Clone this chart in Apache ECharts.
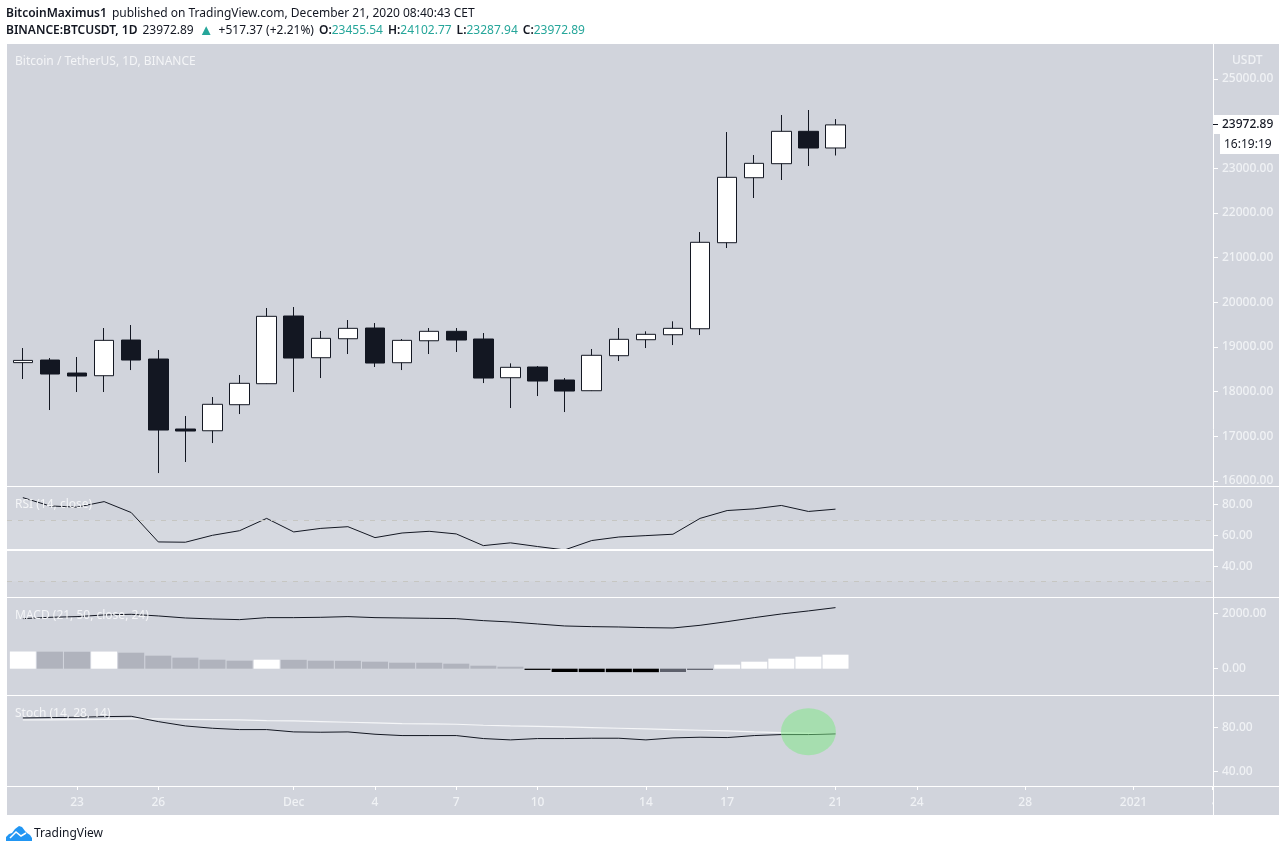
<!DOCTYPE html>
<html>
<head>
<meta charset="utf-8">
<style>html,body{margin:0;padding:0;background:#fff}#c{width:1286px;height:852px}</style>
<script src="https://cdn.jsdelivr.net/npm/echarts@6/dist/echarts.min.js"></script>
</head>
<body>
<div id="c"></div>
<script>
const dates = ['Nov 21','Nov 22','Nov 23','Nov 24','Nov 25','Nov 26','Nov 27','Nov 28','Nov 29','Nov 30','Dec 1','Dec 2','Dec 3','Dec 4','Dec 5','Dec 6','Dec 7','Dec 8','Dec 9','Dec 10','Dec 11','Dec 12','Dec 13','Dec 14','Dec 15','Dec 16','Dec 17','Dec 18','Dec 19','Dec 20','Dec 21'];
const open  = [18650,18708,18417,18357,19156,18731,17164,17125,17708,18178,19694,18760,19185,19425,18648,19140,19351,19179,18312,18552,18261,18021,18805,19163,19275,19409,21335,22790,23104,23829,23455.54];
const close = [18700,18395,18350,19149,18708,17141,17119,17717,18187,19687,18753,19194,19418,18641,19149,19351,19156,18305,18545,18238,18014,18814,19172,19284,19418,21344,22799,23112,23829,23455,23972.89];
const low   = [18283,17589,17992,17992,18484,16178,16425,16850,17499,18171,17992,18305,18843,18552,18484,18843,18888,18193,17634,17902,17544,18014,18686,18977,19044,19268,21216,22336,22739,23052,23287.94];
const high  = [18977,18753,18776,19425,19492,18932,17455,17880,18373,19873,19895,19358,19604,19537,19179,19425,19425,19313,18634,18574,18305,18955,19425,19351,19575,21574,23813,23298,24194,24306,24102.77];
const rsi   = [84.6,79.2,78.4,82.0,74.9,55.8,55.6,60.1,63.1,71.1,62.3,64.6,65.7,58.6,61.6,62.7,61.0,53.4,55.2,52.8,50.6,56.7,59.0,59.9,60.8,71.1,76.2,77.3,79.5,75.6,77.1];
const rsiBand = [70,30];
const rsiDrawnLevel = [51];
const macd  = [1807,1855,1880,1940,1964,1904,1831,1795,1771,1843,1843,1855,1880,1843,1831,1819,1807,1735,1687,1615,1542,1518,1506,1482,1470,1566,1699,1843,1976,2085,2205];
const hist  = [620,615,612,618,578,470,398,325,289,325,320,289,285,253,217,215,181,108,72,-45,-120,-122,-124,-126,-120,-45,145,253,362,434,506];
const stochK = [88.4,88.7,89.0,89.6,89.9,85.1,81.2,79.1,77.9,77.9,75.8,75.5,75.8,73.7,72.5,72.5,72.5,69.8,68.6,69.8,69.8,70.1,70.1,68.6,70.4,71.0,70.7,72.5,73.4,73.4,74.0];
const stochD = [86.6,86.6,86.9,87.2,87.5,87.5,87.2,86.9,86.6,86.0,85.7,85.1,84.5,83.9,83.3,83.0,82.7,81.8,81.2,80.8,80.3,79.7,79.1,78.5,77.9,77.3,76.7,75.8,75.2,74.6,74.0];
const highlightPoint = [29, 76];
const priceTicks = [16000,17000,18000,19000,20000,21000,22000,23000,24000,25000];
const rsiTicks = [40,60,80];
const macdTicks = [0,2000];
const stochTicks = [40,80];
const timeTickDays = [2,5,10,13,16,19,23,26,30,33,37,41,43.91];
const timeTickLabels = ['23','26','Dec','4','7','10','14','17','21','24','28','2021','4'];

const FONT = '"Noto Sans", sans-serif';
const BG = '#d1d4dc', LABEL = '#f0f2f5', DARK = '#131722', TEAL = '#26a69a';
const xMin = -0.585, xMax = 43.935;
const idx = a => a.map((v,i)=>[i,v]);
const X = i => ({gridIndex:i,type:'value',min:xMin,max:xMax,show:false,splitLine:{show:false},axisLine:{onZero:false}});
const Y = (i,min,max,ticks) => ({
  gridIndex:i,type:'value',position:'right',min,max,
  splitLine:{show:false},
  axisLine:{show:false,onZero:false},
  axisTick:{show:true,length:5,inside:false,lineStyle:{color:'#fff'},customValues:ticks},
  axisLabel:{show:true,margin:9,color:LABEL,fontFamily:FONT,fontSize:12,fontWeight:500,lineHeight:14,padding:[3,0,0,0],
    customValues:ticks,formatter:v=>Number(v).toFixed(2)}
});
const line = (g,data,color,z,w) => ({type:'line',xAxisIndex:g,yAxisIndex:g,data:idx(data),showSymbol:false,symbol:'none',
  lineStyle:{color,width:w||1},z:z||3,animation:false,silent:true});
const legend = (text,top) => ({text,left:15,top,padding:0,textStyle:{color:'#f4f5f7',fontFamily:FONT,fontSize:12,fontWeight:'normal'}});

const L = 7, R = 1279, AX = 1213;
const hLine = y => ({type:'line',z:90,silent:true,shape:{x1:L,y1:y,x2:R,y2:y},style:{stroke:'#fff',lineWidth:1}});
const rb = {fontFamily:FONT,fontSize:12,fontWeight:600,color:DARK};
const rn = {fontFamily:FONT,fontSize:12,fontWeight:'normal',color:DARK};
const rt = {fontFamily:FONT,fontSize:12,fontWeight:'normal',color:TEAL};
const ra = {fontFamily:FONT,fontSize:15,fontWeight:'normal',color:TEAL};

const chart = echarts.init(document.getElementById('c'),null,{renderer:'canvas',width:1286,height:852});
chart.setOption({
  animation:false,
  backgroundColor:'#fff',
  title:[
    {left:6,top:5,padding:0,text:'{b|BitcoinMaximus1} {n|published on TradingView.com, December 21, 2020 08:40:43 CET}',
     textStyle:{rich:{b:rb,n:rn}}},
    {left:6,top:22,padding:0,text:'{b|BINANCE:BTCUSDT, 1D} {n|23972.89} {a|▲} {n|+517.37 (+2.21%)} {b|O:}{t|23455.54} {b|H:}{t|24102.77} {b|L:}{t|23287.94} {b|C:}{t|23972.89}',
     textStyle:{rich:{b:rb,n:rn,t:rt,a:ra}}},
    legend('Bitcoin / TetherUS, 1D, BINANCE',56),
    legend('RSI (14, close)',499),
    legend('MACD (21, 50, close, 24)',610),
    legend('Stoch (14, 28, 14)',708),
    {text:'USDT',left:1232,top:55,padding:0,textStyle:{color:LABEL,fontFamily:FONT,fontSize:12,fontWeight:500}},
    {text:'TradingView',left:34,top:828,padding:0,textStyle:{color:DARK,fontFamily:FONT,fontSize:12,fontWeight:'normal'}}
  ],
  grid:[
    {left:L,right:1286-AX,top:44,height:442},
    {left:L,right:1286-AX,top:487,height:110},
    {left:L,right:1286-AX,top:598,height:97},
    {left:L,right:1286-AX,top:696,height:90}
  ],
  xAxis:[X(0),X(1),X(2),{
    gridIndex:3,type:'value',min:xMin,max:xMax,position:'bottom',splitLine:{show:false},
    axisLine:{show:false,onZero:false},
    axisTick:{show:true,length:4,lineStyle:{color:'#fff'},customValues:timeTickDays},
    axisLabel:{show:true,margin:11,color:LABEL,fontFamily:FONT,fontSize:12,fontWeight:500,customValues:timeTickDays,
      hideOverlap:false,showMinLabel:true,showMaxLabel:true,
      rich:{edge:{padding:[0,0,0,6],color:LABEL,fontFamily:FONT,fontSize:12,fontWeight:500}},
      formatter:v=>{
        const i = timeTickDays.findIndex(d=>Math.abs(d-v)<1e-6);
        return i===timeTickDays.length-1 ? '{edge|'+timeTickLabels[i]+'}' : timeTickLabels[i];
      }}
  }],
  yAxis:[
    Y(0,15888,25784,priceTicks),
    Y(1,20,91.5,rsiTicks),
    Y(2,-950,2552,macdTicks),
    Y(3,27,108.2,stochTicks)
  ],
  series:[
    {type:'candlestick',xAxisIndex:0,yAxisIndex:0,name:'BTCUSDT',
     data:dates.map((d,i)=>[i,open[i],close[i],low[i],high[i]]),
     encode:{x:0,y:[1,2,3,4]},barWidth:20,
     itemStyle:{color:'#fff',color0:DARK,borderColor:DARK,borderColor0:DARK,borderWidth:1},
     animation:false,silent:true},
    Object.assign(line(1,rsi,DARK),{
      markArea:{silent:true,itemStyle:{color:'rgba(255,255,255,0.12)'},
        data:[[{yAxis:rsiBand[0]},{yAxis:rsiBand[1]}]]},
      markLine:{silent:true,symbol:'none',label:{show:false},animation:false,
        data:[
          {yAxis:rsiBand[0],lineStyle:{color:'#c6c6c2',type:[5,6],width:1}},
          {yAxis:rsiBand[1],lineStyle:{color:'#c6c6c2',type:[5,6],width:1}},
          {yAxis:rsiDrawnLevel[0],lineStyle:{color:'#fff',type:'solid',width:2}}
        ]}
    }),
    line(2,macd,DARK),
    {type:'bar',xAxisIndex:2,yAxisIndex:2,barWidth:26,animation:false,silent:true,
     data:hist.map((h,i)=>({value:[i,h],itemStyle:{color:
       h>=0 ? ((i===0||h>=hist[i-1])?'#ffffff':'#b0b3bd') : (h<hist[i-1]?'#000000':'#5d606b')}}))},
    line(3,stochD,'#f5f6f8',3,1.2),
    line(3,stochK,DARK,4),
    {type:'scatter',xAxisIndex:3,yAxisIndex:3,data:[highlightPoint],symbol:'circle',symbolSize:[55,47],
     itemStyle:{color:'rgba(120,235,125,0.6)'},z:6,silent:true,animation:false}
  ],
  graphic:[
    {type:'rect',z:-10,silent:true,shape:{x:L,y:44,width:R-L,height:771},style:{fill:BG}},
    {type:'rect',z:80,silent:true,shape:{x:AX,y:787,width:R-AX,height:28},style:{fill:BG}},
    hLine(486.5),hLine(597.5),hLine(695.5),hLine(786.5),
    {type:'line',z:90,silent:true,shape:{x1:AX+0.5,y1:44,x2:AX+0.5,y2:815},style:{stroke:'#fff',lineWidth:1}},
    {type:'rect',z:91,silent:true,shape:{x:AX,y:115,width:R-AX,height:19},style:{fill:'#fff'}},
    {type:'rect',z:91,silent:true,shape:{x:AX+7,y:134,width:R-AX-7,height:20},style:{fill:'#fff'}},
    {type:'line',z:92,silent:true,shape:{x1:AX,y1:124.5,x2:AX+5,y2:124.5},style:{stroke:DARK,lineWidth:1}},
    {type:'text',z:92,silent:true,x:1222,y:124.5,style:{text:'23972.89',fill:DARK,font:'500 12px '+FONT,textVerticalAlign:'middle'}},
    {type:'text',z:92,silent:true,x:1224,y:144.5,style:{text:'16:19:19',fill:DARK,font:'400 12px '+FONT,textVerticalAlign:'middle'}},
    {type:'polygon',z:5,silent:true,shape:{points:[[6,841],[6,837],[9,834],[12,833],[15,829],[19,826],[22,827],[25,831],[27,833],[30,835],[32,838],[32,841]]},style:{fill:'#2196f3'}},
    {type:'polyline',z:6,silent:true,shape:{points:[[10,838],[16,832],[21,836],[26,833]]},style:{stroke:'#fff',fill:'none',lineWidth:1.5}}
  ]
});
</script>
</body>
</html>
